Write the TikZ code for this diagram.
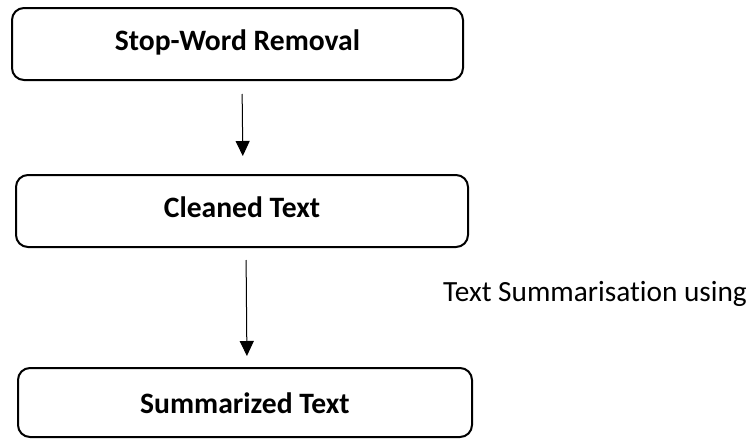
\documentclass[tikz,border=0pt]{standalone}
\usepackage{fontspec}
\setmainfont[Ligatures=NoCommon]{Carlito}
\usetikzlibrary{arrows.meta}
\begin{document}
\begin{tikzpicture}[x=1pt,y=-1pt,
  stage/.style={draw=black, line width=2pt, rounded corners=12pt,
    minimum height=72pt, inner sep=0pt, text height=21pt, text depth=9pt,
    font=\fontsize{29.6}{34}\selectfont\bfseries},
  flow/.style={line width=1pt, -{Triangle[width=14pt,length=15pt]}}]
  \useasboundingbox (0,0) rectangle (752,439);
  % processing stages
  \node[stage, minimum width=451pt] (b1) at (237.5,44) {Stop-Word Removal};
  \node[stage, minimum width=452pt] (b2) at (242,211) {Cleaned Text};
  \node[stage, minimum width=454pt, minimum height=69pt, text depth=0pt] (b3) at (245,402.5) {Summarized Text};
  % side label
  \node[anchor=base west, inner sep=0pt, font=\fontsize{29.3}{34}\selectfont] (lbl) at (443,301) {Text Summarisation using};
  % arrows between stages
  \draw[flow, shorten <=13pt, shorten >=18pt] ([xshift=4.5pt]b1.south) -- ([xshift=1pt]b2.north);
  \draw[flow, shorten <=12pt, shorten >=11pt] ([xshift=4pt]b2.south) -- ([xshift=2pt]b3.north);
\end{tikzpicture}
\end{document}
